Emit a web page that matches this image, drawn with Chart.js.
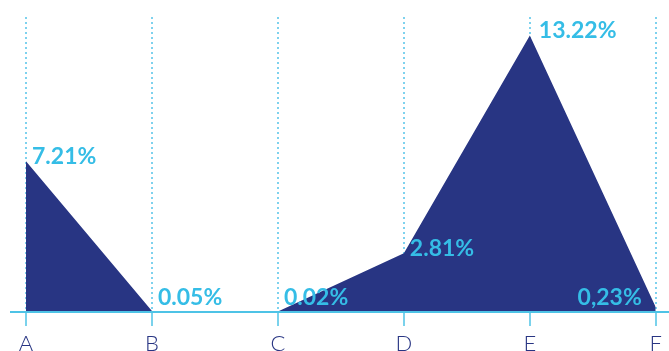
<!DOCTYPE html>
<html>
<head>
<meta charset="utf-8">
<script src="https://cdn.jsdelivr.net/npm/chart.js@4/dist/chart.umd.min.js"></script>
<style>
  html, body { margin: 0; padding: 0; background: #ffffff; }
  #wrap { width: 669px; height: 351px; position: relative; overflow: hidden; }
</style>
</head>
<body>
<div id="wrap"><canvas id="c" width="669" height="351"></canvas></div>
<script>
const categories = ['A', 'B', 'C', 'D', 'E', 'F'];
const values = [7.21, 0.05, 0.02, 2.81, 13.22, 0.23];
const valueLabels = ['7.21%', '0.05%', '0.02%', '2.81%', '13.22%', '0,23%'];

const NAVY = '#283583';
const CYAN = '#35BDE6';
const LINE = '#4EC3E6';

const labelPlugin = {
  id: 'valueLabels',
  afterDatasetsDraw(chart) {
    const ctx = chart.ctx;
    const meta = chart.getDatasetMeta(0);
    const axisY = chart.scales.y.getPixelForValue(0);
    ctx.save();
    ctx.strokeStyle = LINE;
    ctx.lineWidth = 2;
    ctx.beginPath();
    ctx.moveTo(10, axisY);
    ctx.lineTo(chart.width, axisY);
    ctx.stroke();
    ctx.restore();

    ctx.save();
    ctx.font = '700 23px Lato';
    ctx.fillStyle = CYAN;
    ctx.textBaseline = 'alphabetic';
    meta.data.forEach((pt, i) => {
      const last = i === meta.data.length - 1;
      const y = Math.min(pt.y + 3, axisY - 7);
      if (last) {
        ctx.textAlign = 'right';
        ctx.fillText(valueLabels[i], pt.x - 14, y);
      } else {
        ctx.textAlign = 'left';
        ctx.fillText(valueLabels[i], pt.x + (i === 4 ? 9 : 6), y);
      }
    });
    ctx.restore();
  }
};

new Chart(document.getElementById('c'), {
  type: 'line',
  data: {
    labels: categories,
    datasets: [{
      data: values,
      fill: 'origin',
      backgroundColor: NAVY,
      borderColor: NAVY,
      borderWidth: 0,
      pointRadius: 0,
      tension: 0
    }]
  },
  options: {
    responsive: false,
    animation: false,
    layout: { padding: { left: 26, right: 13, top: 17, bottom: -11 } },
    plugins: { legend: { display: false }, tooltip: { enabled: false } },
    scales: {
      x: {
        offset: false,
        border: { display: false, dash: [2, 3] },
        grid: {
          display: true,
          color: '#7ED2EE',
          lineWidth: 2,
          drawTicks: true,
          tickLength: 14,
          tickColor: LINE,
          tickWidth: 1.5,
          tickBorderDash: []
        },
        ticks: {
          color: NAVY,
          padding: 7,
          font: { family: 'Lato', size: 22, weight: '300', lineHeight: 1 },
          maxRotation: 0
        }
      },
      y: {
        display: false,
        min: 0,
        max: 14.1
      }
    }
  },
  plugins: [labelPlugin]
});
</script>
</body>
</html>
